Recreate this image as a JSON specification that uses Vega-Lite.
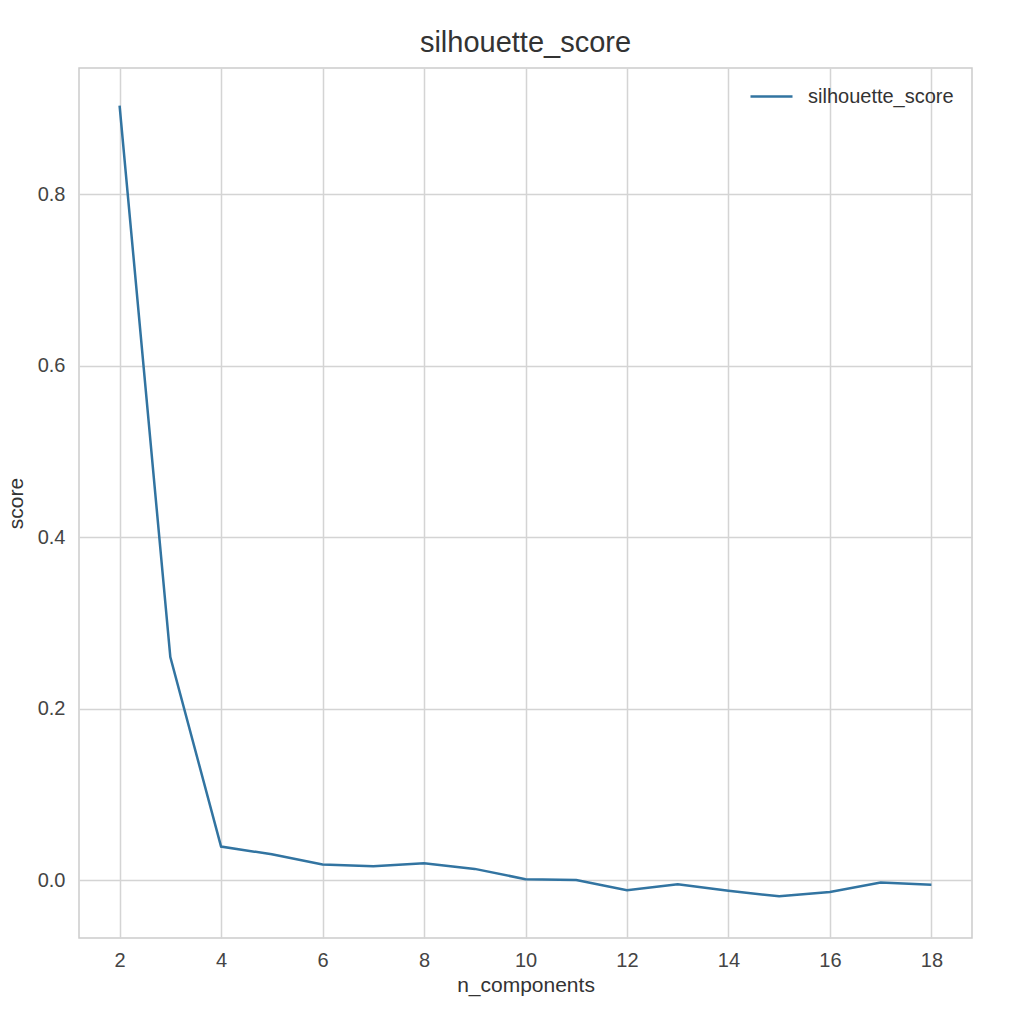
{
  "$schema": "https://vega.github.io/schema/vega-lite/v6.json",
  "autosize": {"type": "none"},
  "width": 893,
  "height": 870,
  "padding": {"left": 79, "top": 68, "right": 60, "bottom": 94},
  "background": "white",
  "title": {"text": "silhouette_score", "fontSize": 29, "font": "Liberation Sans", "fontWeight": "normal", "color": "#333333", "offset": 10},
  "data": {"values": [
    {"n_components": 2, "score": 0.903, "series": "silhouette_score"},
    {"n_components": 3, "score": 0.260, "series": "silhouette_score"},
    {"n_components": 4, "score": 0.039, "series": "silhouette_score"},
    {"n_components": 5, "score": 0.030, "series": "silhouette_score"},
    {"n_components": 6, "score": 0.018, "series": "silhouette_score"},
    {"n_components": 7, "score": 0.016, "series": "silhouette_score"},
    {"n_components": 8, "score": 0.0195, "series": "silhouette_score"},
    {"n_components": 9, "score": 0.013, "series": "silhouette_score"},
    {"n_components": 10, "score": 0.001, "series": "silhouette_score"},
    {"n_components": 11, "score": 0.000, "series": "silhouette_score"},
    {"n_components": 12, "score": -0.012, "series": "silhouette_score"},
    {"n_components": 13, "score": -0.005, "series": "silhouette_score"},
    {"n_components": 14, "score": -0.0125, "series": "silhouette_score"},
    {"n_components": 15, "score": -0.019, "series": "silhouette_score"},
    {"n_components": 16, "score": -0.014, "series": "silhouette_score"},
    {"n_components": 17, "score": -0.003, "series": "silhouette_score"},
    {"n_components": 18, "score": -0.0055, "series": "silhouette_score"}
  ]},
  "mark": {"type": "line", "strokeWidth": 2.5, "clip": true},
  "encoding": {
    "x": {
      "field": "n_components", "type": "quantitative",
      "scale": {"domain": [1.2, 18.8], "nice": false, "zero": false},
      "axis": {"values": [2, 4, 6, 8, 10, 12, 14, 16, 18], "title": "n_components", "format": "d"}
    },
    "y": {
      "field": "score", "type": "quantitative",
      "scale": {"domain": [-0.0676, 0.947], "nice": false, "zero": false},
      "axis": {"values": [0, 0.2, 0.4, 0.6, 0.8], "title": "score", "format": ".1f"}
    },
    "color": {
      "field": "series", "type": "nominal",
      "scale": {"range": ["#3274a1"]},
      "legend": {
        "title": null, "orient": "none", "legendX": 670, "legendY": 6,
        "symbolType": "stroke", "symbolSize": 1764, "symbolStrokeWidth": 2.5,
        "labelFontSize": 20, "labelFont": "Liberation Sans", "labelColor": "#333333", "labelOffset": 14
      }
    }
  },
  "config": {
    "view": {"stroke": "#cccccc", "strokeWidth": 1.5},
    "axis": {
      "grid": true, "gridColor": "#d4d4d4", "gridWidth": 1.5,
      "domain": false, "ticks": false,
      "labelFont": "Liberation Sans", "labelFontSize": 20, "labelColor": "#444444", "labelPadding": 12,
      "titleFont": "Liberation Sans", "titleFontSize": 21, "titleFontWeight": "normal", "titleColor": "#333333"
    },
    "axisX": {"titlePadding": 4},
    "axisY": {"titlePadding": 11, "labelPadding": 14}
  }
}
